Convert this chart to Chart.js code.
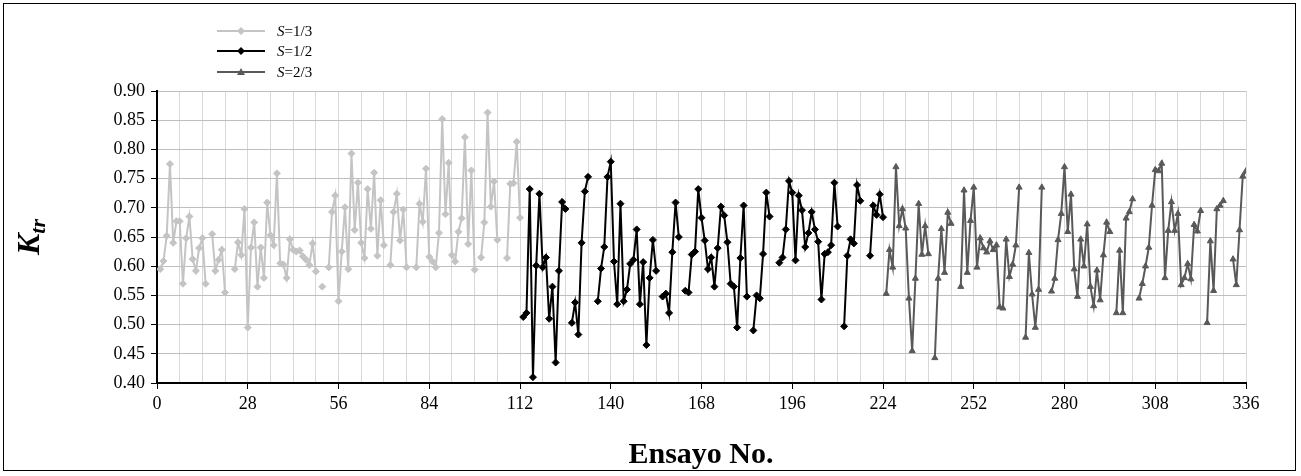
<!DOCTYPE html>
<html>
<head>
<meta charset="utf-8">
<script src="https://cdn.jsdelivr.net/npm/chart.js@4.4.1/dist/chart.umd.min.js"></script>
<style>
  body { margin: 0; background: #fff; }
  #wrap { position: relative; width: 1301px; height: 476px; font-family: "Liberation Serif", "Times New Roman", serif; color: #000; }
  #frame { position: absolute; left: 3px; top: 3px; width: 1293px; height: 468px; border: 1px solid #000; box-sizing: border-box; }
  #chart { position: absolute; left: 0; top: 0; }
  .leg { position: absolute; left: 217px; height: 16px; font-size: 15px; line-height: 16px; display: flex; align-items: center; white-space: nowrap; }
  .leg svg { margin-right: 12px; }
  #ylab { position: absolute; left: 30px; top: 237px; transform: translate(-50%, -50%) rotate(-90deg); font-size: 32px; font-weight: bold; font-style: italic; white-space: nowrap; }
  #ylab sub { font-size: 22px; vertical-align: -6px; }
  #xlab { position: absolute; left: 701px; top: 436px; transform: translateX(-50%); font-size: 30px; font-weight: bold; white-space: nowrap; }
</style>
</head>
<body>
<div id="wrap">
  <canvas id="chart" width="1301" height="476"></canvas>
  <div id="frame"></div>
  <div class="leg" style="top:23px">
    <svg width="48" height="16"><line x1="0" y1="8" x2="48" y2="8" stroke="#c4c4c4" stroke-width="2"/><path d="M24 4 L28 8 L24 12 L20 8 Z" fill="#c4c4c4"/></svg>
    <span><i>S</i>=1/3</span>
  </div>
  <div class="leg" style="top:43px">
    <svg width="48" height="16"><line x1="0" y1="8" x2="48" y2="8" stroke="#000" stroke-width="2"/><path d="M24 4 L28 8 L24 12 L20 8 Z" fill="#000"/></svg>
    <span><i>S</i>=1/2</span>
  </div>
  <div class="leg" style="top:64px">
    <svg width="48" height="16"><line x1="0" y1="8" x2="48" y2="8" stroke="#595959" stroke-width="2"/><path d="M24 4 L28 11 L20 11 Z" fill="#595959"/></svg>
    <span><i>S</i>=2/3</span>
  </div>
  <div id="ylab">K<sub>tr</sub></div>
  <div id="xlab">Ensayo No.</div>
</div>
<script>
// K_tr por ensayo; null = ensayo sin dato (corte en la línea)
const inicio13 = 1;
const ktr13 = [
  0.595, 0.609, 0.652, 0.775, 0.640, 0.677, 0.677, 0.570, 0.648, 0.685,
  0.612, 0.592, 0.631, 0.648, 0.570, null, 0.655, 0.592, 0.611, 0.628,
  0.555, null, null, 0.595, 0.641, 0.619, 0.698, 0.495, 0.632, 0.675,
  0.565, 0.632, 0.580, 0.709, 0.653, 0.636, 0.759, 0.605, 0.603, 0.580,
  0.646, 0.628, 0.625, 0.627, 0.617, 0.611, 0.602, 0.639, 0.591, null,
  0.565, null, 0.598, 0.693, 0.721, 0.540, 0.625, 0.701, 0.595, 0.793,
  0.662, 0.743, 0.640, 0.614, 0.732, 0.664, 0.760, 0.618, 0.713, 0.636,
  null, 0.602, 0.693, 0.724, 0.644, 0.697, 0.598, null, null, 0.598,
  0.707, 0.676, 0.767, 0.616, 0.608, 0.598, 0.657, 0.852, 0.689, 0.777,
  0.619, 0.608, 0.659, 0.682, 0.821, 0.638, 0.764, 0.594, null, 0.615,
  0.675, 0.863, 0.702, 0.745, 0.645, null, null, 0.614, 0.741, 0.742,
  0.813, 0.683
];

const inicio12 = 113;
const ktr12 = [
  0.513, 0.520, 0.732, 0.410, 0.601, 0.724, 0.598, 0.615, 0.510, 0.565,
  0.435, 0.592, 0.710, 0.698, null, 0.503, 0.538, 0.483, 0.640, 0.728,
  0.753, null, null, 0.540, 0.596, 0.633, 0.753, 0.779, 0.608, 0.535,
  0.707, 0.540, 0.560, 0.604, 0.611, 0.663, 0.535, 0.607, 0.465, 0.580,
  0.645, 0.592, null, 0.548, 0.553, 0.520, 0.624, 0.709, 0.650, null,
  0.558, 0.555, 0.620, 0.625, 0.732, 0.683, 0.644, 0.595, 0.615, 0.565,
  0.631, 0.702, 0.687, 0.641, 0.570, 0.565, 0.495, 0.614, 0.704, 0.548,
  null, 0.490, 0.550, 0.545, 0.621, 0.726, 0.685, null, null, 0.606,
  0.615, 0.663, 0.746, 0.726, 0.610, 0.721, 0.696, 0.633, 0.657, 0.693,
  0.663, 0.642, 0.543, 0.621, 0.624, 0.636, 0.743, 0.668, null, 0.497,
  0.618, 0.646, 0.639, 0.739, 0.712, null, null, 0.618, 0.704, 0.688,
  0.723, 0.684
];

const inicio23 = 225;
const ktr23 = [
  0.553, 0.628, 0.598, 0.770, 0.669, 0.698, 0.665, 0.545, 0.455, 0.579,
  0.707, 0.620, 0.669, 0.621, null, 0.443, 0.579, 0.664, 0.589, 0.692,
  0.673, null, null, 0.565, 0.730, 0.589, 0.678, 0.735, 0.598, 0.648,
  0.631, 0.624, 0.643, 0.628, 0.636, 0.530, 0.528, 0.646, 0.582, 0.603,
  0.636, 0.735, null, 0.478, 0.623, 0.552, 0.495, 0.560, 0.735, null,
  null, 0.557, 0.579, 0.645, 0.690, 0.770, 0.659, 0.723, 0.595, 0.548,
  0.646, 0.600, 0.672, 0.565, 0.532, 0.593, 0.542, 0.619, 0.675, 0.659,
  null, 0.520, 0.627, 0.520, 0.682, 0.693, 0.715, null, 0.545, 0.570,
  0.600, 0.632, 0.704, 0.765, 0.763, 0.776, 0.580, 0.661, 0.710, 0.661,
  0.690, 0.568, 0.580, 0.604, 0.578, 0.671, 0.660, 0.695, null, 0.503,
  0.643, 0.558, 0.698, 0.704, 0.712, null, null, 0.612, 0.568, 0.662,
  0.754, 0.763
];

const xMin = 0, xMax = 336, xPaso = 7, xEtiqueta = 28;
const yMin = 0.40, yMax = 0.90, yPaso = 0.05;

const puntos = (inicio, vals) => vals.map((v, i) => ({ x: inicio + i, y: v }));

const serie = (label, inicio, vals, color, estilo, radio) => ({
  label,
  data: puntos(inicio, vals),
  borderColor: color,
  backgroundColor: color,
  borderWidth: 2,
  pointStyle: estilo,
  pointRadius: radio,
  pointBorderWidth: 1,
  spanGaps: false,
  tension: 0,
});

new Chart(document.getElementById("chart"), {
  type: "line",
  data: {
    datasets: [
      serie("S=1/3", inicio13, ktr13, "#c4c4c4", "rectRot", 3.5),
      serie("S=1/2", inicio12, ktr12, "#000000", "rectRot", 3.5),
      serie("S=2/3", inicio23, ktr23, "#595959", "triangle", 3.5),
    ],
  },
  options: {
    responsive: false,
    animation: false,
    events: [],
    layout: { padding: { left: 0, top: 91, right: 55, bottom: 0 } },
    plugins: { legend: { display: false }, tooltip: { enabled: false } },
    scales: {
      x: {
        type: "linear",
        min: xMin,
        max: xMax,
        afterBuildTicks: (s) => {
          const t = [];
          for (let v = xMin; v <= xMax; v += xPaso) t.push({ value: v });
          s.ticks = t;
        },
        afterFit: (s) => { s.height = 93; },
        ticks: {
          autoSkip: false,
          maxRotation: 0,
          padding: 4,
          color: "#000",
          font: { family: "Liberation Serif", size: 18 },
          callback: (v) => (v % xEtiqueta === 0 ? String(v) : ""),
        },
        grid: {
          color: "#d9d9d9",
          lineWidth: 1,
          tickColor: (c) => (c.tick && c.tick.value % xEtiqueta === 0 ? "#000" : "rgba(0,0,0,0)"),
          tickLength: 6,
        },
        border: { color: "#000", width: 2 },
      },
      y: {
        min: yMin,
        max: yMax,
        afterFit: (s) => { s.width = 157; },
        ticks: {
          stepSize: yPaso,
          padding: 6,
          color: "#000",
          font: { family: "Liberation Serif", size: 18 },
          callback: (v) => v.toFixed(2),
        },
        grid: { color: "#bfbfbf", lineWidth: 1, tickColor: "#000", tickLength: 6 },
        border: { color: "#000", width: 2 },
      },
    },
  },
});
</script>
</body>
</html>
